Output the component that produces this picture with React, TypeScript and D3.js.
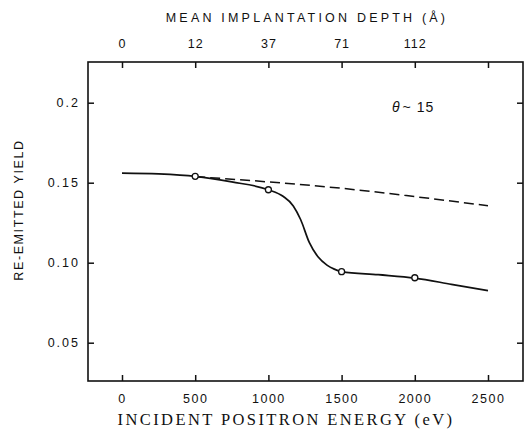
import * as d3 from 'd3';
import { useEffect, useRef } from 'react';

// readings from the figure
const energyTicks = [0, 500, 1000, 1500, 2000, 2500];
const depthLabels = ['0', '12', '37', '71', '112', ''];
const yieldTicks = [0.05, 0.1, 0.15, 0.2];
const yieldLabels = ['0.05', '0.10', '0.15', '0.2'];

const fitEnergy = [0, 250, 500, 750, 1000, 1100, 1170, 1220, 1280, 1340, 1400, 1450, 1500, 1750, 2000, 2250, 2500];
const fitYield = [0.156, 0.1555, 0.154, 0.1505, 0.1456, 0.1415, 0.1355, 0.127, 0.1125, 0.1035, 0.0985, 0.096, 0.0944, 0.0925, 0.0904, 0.0865, 0.0825];

const dashEnergy = [500, 1000, 1500, 2000, 2500];
const dashYield = [0.1538, 0.1505, 0.1465, 0.1413, 0.1356];

const pointEnergy = [500, 1000, 1500, 2000];
const pointYield = [0.154, 0.1456, 0.0944, 0.0906];

export default function App() {
    const svgRef = useRef<SVGSVGElement>(null);

    useEffect(() => {
        drawChart(svgRef.current);
    }, []);

    return (
        <svg ref={svgRef} width={531} height={433}
            style={{ position: 'absolute', left: 0, top: 0, background: '#fff' }} />
    );
}

function drawChart(node: SVGSVGElement | null) {
    if (!node) return;
    const svg = d3.select(node);
    svg.selectAll('*').remove();

    const left = 88, right = 523, top = 62, bottom = 381;
    const x = d3.scaleLinear().domain([0, 2500]).range([122, 488]);
    const y = d3.scaleLinear().domain([0.05, 0.2]).range([342.7, 102.7]);
    const tickFont = '"Liberation Sans", Arial, sans-serif';

    // frame
    svg.append('rect')
        .attr('x', left).attr('y', top)
        .attr('width', right - left).attr('height', bottom - top)
        .attr('fill', 'none').attr('stroke', '#111').attr('stroke-width', 1.6);

    const styleAxis = (spacing: number) => (g: any) => {
        g.select('.domain').remove();
        g.selectAll('line').attr('stroke', '#111').attr('stroke-width', 1.5);
        g.selectAll('text').attr('fill', '#111').attr('font-family', tickFont)
            .attr('font-size', 12.5).attr('letter-spacing', spacing);
    };

    svg.append('g')
        .attr('transform', `translate(0,${bottom})`)
        .call(d3.axisBottom(x).tickValues(energyTicks).tickSize(-6).tickPadding(13).tickFormat(d3.format('d')))
        .call(styleAxis(1.5));

    svg.append('g')
        .attr('transform', `translate(0,${top})`)
        .call(d3.axisTop(x).tickValues(energyTicks).tickSize(-6).tickPadding(14)
            .tickFormat((_d: any, i: number) => depthLabels[i]))
        .call(styleAxis(1));

    svg.append('g')
        .attr('transform', `translate(${left},0)`)
        .call(d3.axisLeft(y).tickValues(yieldTicks).tickSize(-6).tickPadding(8)
            .tickFormat((_d: any, i: number) => yieldLabels[i]))
        .call(styleAxis(2));

    svg.append('g')
        .attr('transform', `translate(${right},0)`)
        .call(d3.axisRight(y).tickValues(yieldTicks).tickSize(-6).tickFormat(() => ''))
        .call(styleAxis(0));

    // fitted curve
    const fit = fitEnergy.map((e, i) => [e, fitYield[i]] as [number, number]);
    const line = d3.line<[number, number]>()
        .x(d => x(d[0])).y(d => y(d[1]))
        .curve(d3.curveMonotoneX);
    svg.append('path')
        .attr('d', line(fit))
        .attr('fill', 'none').attr('stroke', '#111').attr('stroke-width', 1.7);

    const dash = dashEnergy.map((e, i) => [e, dashYield[i]] as [number, number]);
    svg.append('path')
        .attr('d', line(dash))
        .attr('fill', 'none').attr('stroke', '#111').attr('stroke-width', 1.5)
        .attr('stroke-dasharray', '10,5');

    svg.selectAll('circle.pt')
        .data(pointEnergy.map((e, i) => [e, pointYield[i]]))
        .enter()
        .append('circle')
        .attr('class', 'pt')
        .attr('cx', d => x(d[0]))
        .attr('cy', d => y(d[1]))
        .attr('r', 3)
        .attr('fill', '#fff').attr('stroke', '#111').attr('stroke-width', 1.3);

    // annotation
    const note = svg.append('text')
        .attr('x', 392).attr('y', 112)
        .attr('font-family', tickFont).attr('font-size', 14).attr('fill', '#111');
    note.append('tspan').attr('font-style', 'italic').text('\u03b8');
    note.append('tspan').attr('dx', 3).attr('letter-spacing', 1).text('~ 15');

    // titles
    svg.append('text')
        .attr('x', 307).attr('y', 22)
        .attr('text-anchor', 'middle')
        .attr('font-family', tickFont).attr('font-size', 12.5).attr('letter-spacing', 3.2)
        .attr('fill', '#111')
        .text('MEAN IMPLANTATION DEPTH (\u00c5)');

    svg.append('text')
        .attr('transform', 'translate(23,210) rotate(-90)')
        .attr('text-anchor', 'middle')
        .attr('font-family', tickFont).attr('font-size', 12.5).attr('letter-spacing', 1.6)
        .attr('fill', '#111')
        .text('RE-EMITTED YIELD');

    svg.append('text')
        .attr('x', 286).attr('y', 425)
        .attr('text-anchor', 'middle')
        .attr('font-family', '"Liberation Serif", "DejaVu Serif", serif').attr('font-size', 16.5)
        .attr('letter-spacing', 2.4)
        .attr('fill', '#111')
        .text('INCIDENT POSITRON ENERGY (eV)');
}
